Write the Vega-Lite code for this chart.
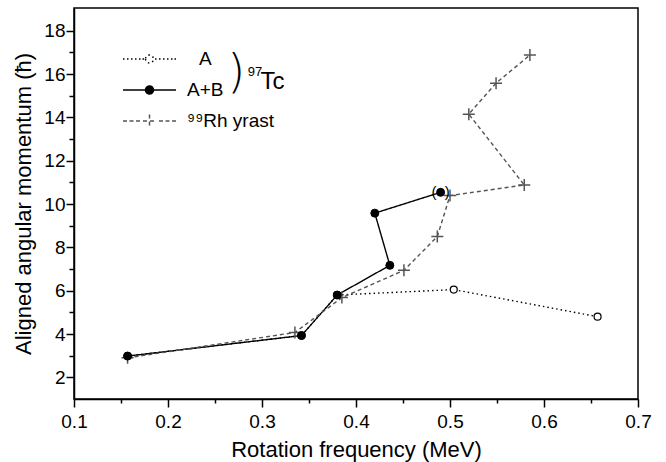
{
  "$schema": "https://vega.github.io/schema/vega-lite/v6.json",
  "width": 564,
  "height": 391,
  "autosize": "none",
  "padding": {"left": 74, "top": 8, "right": 28, "bottom": 63},
  "config": {
    "font": "Liberation Sans",
    "view": {"stroke": "black", "strokeWidth": 1.5},
    "axis": {"grid": false, "domainColor": "black", "domainWidth": 1.5, "tickColor": "black", "tickWidth": 1.5, "labelColor": "black", "titleColor": "black", "labelFontSize": 19, "titleFontSize": 22, "titleFontWeight": "normal", "labelFont": "Liberation Sans", "titleFont": "Liberation Sans"}
  },
  "data": {"values": [
    {"series": "A", "f": 0.157, "i": 2.98, "o": 1},
    {"series": "A", "f": 0.342, "i": 3.93, "o": 2},
    {"series": "A", "f": 0.380, "i": 5.8, "o": 3},
    {"series": "A", "f": 0.504, "i": 6.05, "o": 4},
    {"series": "A", "f": 0.657, "i": 4.8, "o": 5},
    {"series": "A+B", "f": 0.157, "i": 2.98, "o": 1},
    {"series": "A+B", "f": 0.342, "i": 3.93, "o": 2},
    {"series": "A+B", "f": 0.380, "i": 5.8, "o": 3},
    {"series": "A+B", "f": 0.436, "i": 7.17, "o": 4},
    {"series": "A+B", "f": 0.420, "i": 9.58, "o": 5},
    {"series": "A+B", "f": 0.490, "i": 10.54, "o": 6, "note": "(\u00a0\u00a0)"},
    {"series": "Rh", "f": 0.157, "i": 2.9, "o": 1},
    {"series": "Rh", "f": 0.335, "i": 4.07, "o": 2},
    {"series": "Rh", "f": 0.385, "i": 5.68, "o": 3},
    {"series": "Rh", "f": 0.451, "i": 6.94, "o": 4},
    {"series": "Rh", "f": 0.4865, "i": 8.5, "o": 5},
    {"series": "Rh", "f": 0.500, "i": 10.39, "o": 6},
    {"series": "Rh", "f": 0.579, "i": 10.88, "o": 7},
    {"series": "Rh", "f": 0.520, "i": 14.15, "o": 8},
    {"series": "Rh", "f": 0.549, "i": 15.58, "o": 9},
    {"series": "Rh", "f": 0.585, "i": 16.88, "o": 10},
    {"series": "brace", "f": 0.2725, "i": 16.06, "o": 1, "ann": ")"},
    {"series": "sup", "f": 0.2848, "i": 16.1, "o": 1, "ann": "97"},
    {"series": "tc", "f": 0.2985, "i": 15.64, "o": 1, "ann": "Tc"}
  ]},
  "encoding": {
    "x": {"field": "f", "type": "quantitative",
      "scale": {"domain": [0.1, 0.7], "nice": false, "zero": false},
      "axis": {"title": "Rotation frequency (MeV)",
        "values": [0.1, 0.15, 0.2, 0.25, 0.3, 0.35, 0.4, 0.45, 0.5, 0.55, 0.6, 0.65, 0.7],
        "labelExpr": "abs(datum.value*10 - round(datum.value*10)) < 0.001 ? format(datum.value, '.1f') : ''",
        "tickSize": {"condition": {"test": "abs(datum.value*10 - round(datum.value*10)) < 0.001", "value": 8}, "value": 4},
        "labelPadding": 5, "titlePadding": 8, "labelFlush": false}},
    "y": {"field": "i", "type": "quantitative",
      "scale": {"domain": [1, 19.05], "nice": false, "zero": false},
      "axis": {"title": "Aligned angular momentum (ħ)",
        "values": [2, 3, 4, 5, 6, 7, 8, 9, 10, 11, 12, 13, 14, 15, 16, 17, 18],
        "labelExpr": "datum.value % 2 == 0 ? datum.value : ''",
        "tickSize": {"condition": {"test": "datum.value % 2 == 0", "value": 8}, "value": 5},
        "labelPadding": 1, "titlePadding": 8, "labelFlush": false}}
  },
  "layer": [
    {
      "transform": [{"filter": "datum.series == 'A' || datum.series == 'A+B' || datum.series == 'Rh'"}],
      "mark": {"type": "line", "strokeWidth": 1.4},
      "encoding": {
        "order": {"field": "o", "type": "quantitative"},
        "color": {"field": "series", "type": "nominal",
          "scale": {"domain": ["A", "A+B", "Rh"], "range": ["#000000", "#000000", "#555555"]},
          "legend": {"orient": "none", "legendX": 64.5, "legendY": 40, "title": null, "padding": 0, "offset": 0,
            "symbolSize": 400, "rowPadding": 10, "labelOffset": 26.5, "labelFontSize": 19, "labelColor": "black", "labelFont": "Liberation Sans",
            "labelExpr": "datum.value == 'Rh' ? '⁹⁹Rh yrast' : datum.value",
            "encode": {
              "labels": {"update": {"dx": {"signal": "datum.value == 'A' ? 12 : 0"}}},
              "symbols": {"update": {
              "shape": {"signal": "datum.value == 'A' ? 'M-2.65,0h0.15M-2.25,0h0.15M-1.85,0h0.15M-1.45,0h0.15M-1.05,0h0.15M-0.7,0h0.15M0.55,0h0.15M0.95,0h0.15M1.35,0h0.15M1.75,0h0.15M2.15,0h0.15M2.5,0h0.15M-0.4,0A0.4,0.4,0,1,0,0.4,0A0.4,0.4,0,1,0,-0.4,0Z' : datum.value == 'A+B' ? 'M-2.65,0H-0.4M0.4,0H2.65M-0.4,0A0.4,0.4,0,1,0,0.4,0A0.4,0.4,0,1,0,-0.4,0Z' : 'M-2.65,0h0.4M-2,0h0.4M-1.35,0h0.4M-0.65,0H0.65M0,-0.65V0.65M0.95,0h0.4M1.6,0h0.4M2.25,0h0.4'"},
              "fill": {"signal": "datum.value == 'A' ? 'white' : datum.value == 'A+B' ? 'black' : 'transparent'"},
              "stroke": {"signal": "datum.value == 'Rh' ? '#555555' : 'black'"},
              "strokeWidth": {"value": 1.5},
              "strokeDash": {"value": []},
              "size": {"value": 400},
              "opacity": {"value": 1}
            }}}}},
        "strokeDash": {"field": "series", "type": "nominal",
          "scale": {"domain": ["A", "A+B", "Rh"], "range": [[1.5, 3], [1, 0], [4, 3]]},
          "legend": null}
      }
    },
    {
      "transform": [{"filter": "datum.series == 'Rh'"}],
      "mark": {"type": "point", "shape": "M-1,0H1M0,-1V1", "size": 144, "filled": false, "stroke": "#555555", "strokeWidth": 1.5, "opacity": 1}
    },
    {
      "transform": [{"filter": "datum.series == 'A'"}],
      "mark": {"type": "point", "shape": "circle", "size": 49, "filled": true, "fill": "white", "stroke": "black", "strokeWidth": 1.2, "opacity": 1}
    },
    {
      "transform": [{"filter": "datum.series == 'A+B'"}],
      "mark": {"type": "point", "shape": "circle", "size": 64, "filled": true, "fill": "black", "stroke": "black", "strokeWidth": 1, "opacity": 1}
    },
    {
      "transform": [{"filter": "datum.note"}],
      "mark": {"type": "text", "fontSize": 15, "baseline": "middle", "align": "center", "color": "black"},
      "encoding": {"text": {"field": "note"}}
    },
    {
      "transform": [{"filter": "datum.series == 'brace'"}],
      "mark": {"type": "text", "fontSize": 46, "font": "DejaVu Sans", "fontWeight": 200, "baseline": "middle", "align": "center", "color": "black"},
      "encoding": {"text": {"field": "ann"}}
    },
    {
      "transform": [{"filter": "datum.series == 'sup'"}],
      "mark": {"type": "text", "fontSize": 13, "baseline": "middle", "align": "left", "color": "black"},
      "encoding": {"text": {"field": "ann"}}
    },
    {
      "transform": [{"filter": "datum.series == 'tc'"}],
      "mark": {"type": "text", "fontSize": 24, "baseline": "middle", "align": "left", "color": "black"},
      "encoding": {"text": {"field": "ann"}}
    }
  ]
}
